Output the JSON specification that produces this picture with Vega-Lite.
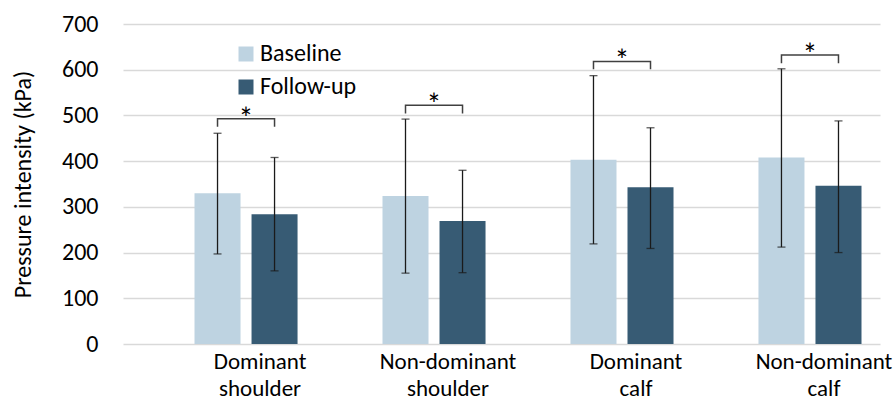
{
  "$schema": "https://vega.github.io/schema/vega-lite/v6.json",
  "width": 757,
  "height": 320,
  "autosize": {"type": "none"},
  "padding": {"left": 123, "top": 24, "right": 16, "bottom": 64},
  "config": {
    "font": "Carlito, Lato, sans-serif",
    "view": {"stroke": null},
    "axis": {"labelColor": "#000000", "titleColor": "#000000"},
    "legend": {"labelColor": "#000000"}
  },
  "datasets": {
    "bars": [
      {"group": "Dominant shoulder", "series": "Baseline", "mean": 330, "lo": 197, "hi": 461},
      {"group": "Dominant shoulder", "series": "Follow-up", "mean": 284, "lo": 160, "hi": 408},
      {"group": "Non-dominant shoulder", "series": "Baseline", "mean": 324, "lo": 155, "hi": 492},
      {"group": "Non-dominant shoulder", "series": "Follow-up", "mean": 269, "lo": 156, "hi": 380},
      {"group": "Dominant calf", "series": "Baseline", "mean": 403, "lo": 219, "hi": 587},
      {"group": "Dominant calf", "series": "Follow-up", "mean": 343, "lo": 209, "hi": 473},
      {"group": "Non-dominant calf", "series": "Baseline", "mean": 408, "lo": 212, "hi": 602},
      {"group": "Non-dominant calf", "series": "Follow-up", "mean": 346, "lo": 200, "hi": 488}
    ],
    "brackets": [
      {"group": "Dominant shoulder", "series": "Baseline", "val": 475, "ord": 1},
      {"group": "Dominant shoulder", "series": "Baseline", "val": 493, "ord": 2},
      {"group": "Dominant shoulder", "series": "Follow-up", "val": 493, "ord": 3},
      {"group": "Dominant shoulder", "series": "Follow-up", "val": 475, "ord": 4},
      {"group": "Non-dominant shoulder", "series": "Baseline", "val": 504, "ord": 1},
      {"group": "Non-dominant shoulder", "series": "Baseline", "val": 522, "ord": 2},
      {"group": "Non-dominant shoulder", "series": "Follow-up", "val": 522, "ord": 3},
      {"group": "Non-dominant shoulder", "series": "Follow-up", "val": 504, "ord": 4},
      {"group": "Dominant calf", "series": "Baseline", "val": 601, "ord": 1},
      {"group": "Dominant calf", "series": "Baseline", "val": 618, "ord": 2},
      {"group": "Dominant calf", "series": "Follow-up", "val": 618, "ord": 3},
      {"group": "Dominant calf", "series": "Follow-up", "val": 601, "ord": 4},
      {"group": "Non-dominant calf", "series": "Baseline", "val": 614, "ord": 1},
      {"group": "Non-dominant calf", "series": "Baseline", "val": 632, "ord": 2},
      {"group": "Non-dominant calf", "series": "Follow-up", "val": 632, "ord": 3},
      {"group": "Non-dominant calf", "series": "Follow-up", "val": 614, "ord": 4}
    ],
    "stars": [
      {"group": "Dominant shoulder", "top": 493, "label": "*"},
      {"group": "Non-dominant shoulder", "top": 522, "label": "*"},
      {"group": "Dominant calf", "top": 618, "label": "*"},
      {"group": "Non-dominant calf", "top": 632, "label": "*"}
    ]
  },
  "encoding": {
    "x": {
      "field": "group",
      "type": "nominal",
      "sort": ["Dominant shoulder", "Non-dominant shoulder", "Dominant calf", "Non-dominant calf"],
      "scale": {"paddingInner": 0.255, "paddingOuter": 0.141, "align": 1},
      "axis": {
        "title": null,
        "domain": false,
        "ticks": false,
        "grid": false,
        "labelAngle": 0,
        "labelFontSize": 23,
        "labelExpr": "split(datum.label, ' ')",
        "labelLineHeight": 27,
        "labelOffset": 14,
        "labelPadding": 6
      }
    }
  },
  "layer": [
    {
      "data": {"name": "bars"},
      "mark": {"type": "bar"},
      "encoding": {
        "xOffset": {"field": "series", "type": "nominal", "sort": ["Baseline", "Follow-up"], "scale": {"paddingInner": 0.193, "paddingOuter": 0.3245}},
        "y": {
          "field": "mean",
          "type": "quantitative",
          "scale": {"domain": [0, 700], "nice": false},
          "axis": {
            "values": [0, 100, 200, 300, 400, 500, 600, 700],
            "grid": true,
            "gridColor": "#D9D9D9",
            "gridWidth": 1.3,
            "domain": false,
            "ticks": false,
            "labelFontSize": 24,
            "labelPadding": 25,
            "title": "Pressure intensity (kPa)",
            "titleFontSize": 24,
            "titleFontWeight": "normal",
            "titlePadding": 26
          }
        },
        "color": {
          "field": "series",
          "type": "nominal",
          "scale": {"domain": ["Baseline", "Follow-up"], "range": ["#BED3E1", "#375B74"]},
          "legend": {
            "orient": "none",
            "legendX": 111,
            "legendY": 18,
            "title": null,
            "symbolType": "square",
            "symbolSize": 225,
            "symbolStrokeWidth": 0,
            "labelFontSize": 24,
            "labelOffset": 2,
            "rowPadding": 9
          }
        }
      }
    },
    {
      "data": {"name": "bars"},
      "mark": {"type": "rule", "color": "#1a1a1a", "strokeWidth": 1.3},
      "encoding": {
        "xOffset": {"field": "series", "type": "nominal", "sort": ["Baseline", "Follow-up"]},
        "y": {"field": "lo", "type": "quantitative"},
        "y2": {"field": "hi"}
      }
    },
    {
      "data": {"name": "bars"},
      "mark": {"type": "tick", "color": "#1a1a1a", "size": 8, "thickness": 1.3, "orient": "horizontal"},
      "encoding": {
        "xOffset": {"field": "series", "type": "nominal", "sort": ["Baseline", "Follow-up"]},
        "y": {"field": "lo", "type": "quantitative"}
      }
    },
    {
      "data": {"name": "bars"},
      "mark": {"type": "tick", "color": "#1a1a1a", "size": 8, "thickness": 1.3, "orient": "horizontal"},
      "encoding": {
        "xOffset": {"field": "series", "type": "nominal", "sort": ["Baseline", "Follow-up"]},
        "y": {"field": "hi", "type": "quantitative"}
      }
    },
    {
      "data": {"name": "brackets"},
      "mark": {"type": "line", "color": "#404040", "strokeWidth": 1.5},
      "encoding": {
        "xOffset": {"field": "series", "type": "nominal", "sort": ["Baseline", "Follow-up"]},
        "y": {"field": "val", "type": "quantitative"},
        "detail": {"field": "group"},
        "order": {"field": "ord", "type": "quantitative"}
      }
    },
    {
      "data": {"name": "stars"},
      "mark": {"type": "text", "fontSize": 30, "baseline": "alphabetic", "dy": 10, "color": "#000000"},
      "encoding": {
        "y": {"field": "top", "type": "quantitative"},
        "text": {"field": "label"}
      }
    }
  ]
}
